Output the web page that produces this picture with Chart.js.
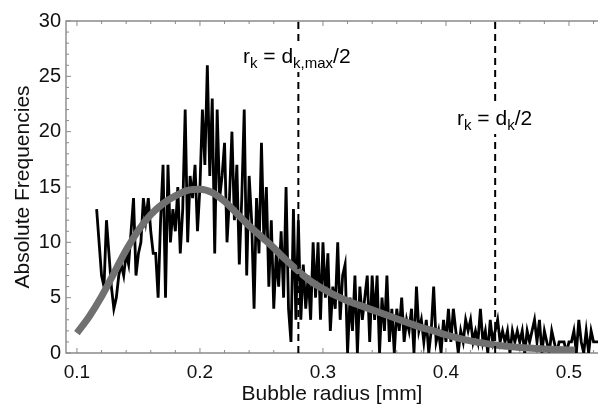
<!DOCTYPE html>
<html><head><meta charset="utf-8">
<script src="https://cdn.jsdelivr.net/npm/chart.js@4.4.1/dist/chart.umd.min.js"></script>
<style>html,body{margin:0;padding:0;background:#fff}#wrap{width:598px;height:409px}</style>
</head><body><div id="wrap"><canvas id="c" width="598" height="409"></canvas></div>
<script>
// Histogram of bubble radii: first bin centre and bin width [mm]
const binStart = 0.116, binWidth = 0.002;
const counts = [
 13,10,7,6,12,9,6,4,5,7,
 8,7,9,8,11,14,7,9,10,14,
 12,14,11,9,9,5,12,17,5,17,
 10,13,11,15,9,13,22,10,16,14,
 17,11,15,22,17,26,16,23,9,22,
 14,16,19,10,14,20,12,17,8,14,
 22,7,16,12,4,14,9,19,10,15,
 6,12,4,9,6,11,5,15,4,1,
 13,3,12,3,8,4,7,3,10,5,
 10,3,10,5,9,2,6,4,10,3,
 7,8,0,5,2,7,0,6,3,5,
 7,1,7,3,7,0,5,2,7,1,
 4,0,4,2,5,1,3,2,4,0,
 6,2,3,1,3,0,2,6,1,2,
 0,3,1,4,1,4,2,0,2,1,
 3,2,3,1,2,1,4,1,2,0,
 3,1,2,3,1,2,1,2,0,2,
 1,2,1,2,0,2,1,2,3,1,
 3,0,2,1,0,2,1,0,1,1,
 1,0,1,1,2,0,3,1,0,2,
 0,2,1,1,1
];
// Fitted distribution (grey curve)
const fitX = [0.10,0.11,0.12,0.13,0.14,0.15,0.16,0.17,0.18,0.19,0.20,0.21,0.22,0.23,0.24,0.25,0.26,0.27,0.28,0.29,0.30,0.31,0.32,0.33,0.34,0.35,0.36,0.37,0.38,0.39,0.40,0.41,0.42,0.43,0.44,0.45,0.46,0.47,0.48,0.49,0.50,0.505];
const fitY = [1.8,3.3,5.1,7.2,9.3,11.1,12.5,13.5,14.2,14.7,14.8,14.5,13.7,12.6,11.5,10.5,9.5,8.4,7.4,6.5,5.8,5.2,4.7,4.3,3.9,3.5,3.1,2.7,2.3,2.0,1.65,1.35,1.1,0.9,0.72,0.6,0.5,0.42,0.36,0.31,0.27,0.25];
// Vertical reference lines
const markerX = [0.28, 0.44];
// Axes
const xMin = 0.0911, xMax = 0.5236, yMin = 0, yMax = 30;
const xTickValues = [0.1,0.2,0.3,0.4,0.5];
const xTickLabels = ['0.1','0.2','0.3','0.4','0.5'];
const yTickValues = [0,5,10,15,20,25,30];
const yTickLabels = ['0','5','10','15','20','25','30'];
const xTitle = 'Bubble radius [mm]';
const yTitle = 'Absolute Frequencies';
// Annotations: [text, isSubscript]
const notes = [
  {x:0.235, y:26.2, parts:[['r',0],['k',1],[' = d',0],['k,max',1],['/2',0]]},
  {x:0.409, y:20.6, parts:[['r',0],['k',1],[' = d',0],['k',1],['/2',0]]}
];

const FONT = '"Liberation Sans", Arial, Helvetica, sans-serif';
const noisy = counts.map((v,i)=>({x: +(binStart + i*binWidth).toFixed(4), y: v}));
const fit = fitX.map((x,i)=>({x, y: fitY[i]}));

const datasets = [];
markerX.forEach(m=>datasets.push({data:[{x:m,y:yMin},{x:m,y:yMax}], borderColor:'#000', borderWidth:2, borderDash:[7,5], pointRadius:0, showLine:true, order:0}));
datasets.push({data:fit, borderColor:'#707070', borderWidth:7, pointRadius:0, showLine:true, cubicInterpolationMode:'monotone', borderCapStyle:'butt', order:1});
datasets.push({data:noisy, borderColor:'#000', borderWidth:2.8, pointRadius:0, showLine:true, tension:0, borderJoinStyle:'miter', order:2});

const framePlugin = {
  id:'frame',
  beforeDatasetsDraw(chart){
    const {ctx, chartArea:a, scales:{x,y}} = chart;
    ctx.save();
    ctx.strokeStyle='#8a8a8a'; ctx.lineWidth=1.4;
    ctx.beginPath();
    ctx.moveTo(a.right+1,a.top); ctx.lineTo(a.left,a.top); ctx.lineTo(a.left,a.bottom); ctx.lineTo(a.right+1,a.bottom);
    ctx.stroke();
    ctx.lineWidth=1;
    ctx.beginPath();
    for(let k=0;k<=25;k++){
      const v=0.1+k*0.02; const px=x.getPixelForValue(v);
      if(px>a.right) break;
      const L = (k%5===0)?5:3;
      ctx.moveTo(px,a.bottom); ctx.lineTo(px,a.bottom-L);
      ctx.moveTo(px,a.top); ctx.lineTo(px,a.top+L);
    }
    for(let k=0;k<=30;k++){
      const py=y.getPixelForValue(k);
      const L=(k%5===0)?5:3;
      ctx.moveTo(a.left,py); ctx.lineTo(a.left+L,py);
    }
    ctx.stroke();
    ctx.restore();
  },
  afterDatasetsDraw(chart){
    const {ctx, scales:{x,y}} = chart;
    ctx.save();
    notes.forEach(n=>{
      const px=x.getPixelForValue(n.x), py=y.getPixelForValue(n.y);
      let w=0;
      n.parts.forEach(([t,s])=>{ctx.font=(s?'15px ':'21px ')+FONT; w+=ctx.measureText(t).width;});
      ctx.fillStyle='#fff';
      ctx.fillRect(px-2,py-20,w+4,29);
      ctx.fillStyle='#000'; ctx.textBaseline='alphabetic'; ctx.textAlign='left';
      let cx=px;
      n.parts.forEach(([t,s])=>{
        ctx.font=(s?'15px ':'21px ')+FONT;
        ctx.fillText(t,cx,py+(s?5:0));
        cx+=ctx.measureText(t).width;
      });
    });
    ctx.restore();
  }
};

new Chart(document.getElementById('c'),{
  type:'scatter',
  data:{datasets},
  options:{
    responsive:false, animation:false, devicePixelRatio:1,
    layout:{padding:{top:21,right:0,left:0,bottom:0}},
    plugins:{legend:{display:false}, tooltip:{enabled:false}},
    scales:{
      x:{type:'linear', min:xMin, max:xMax,
        afterBuildTicks(s){s.ticks=xTickValues.map(v=>({value:v}));},
        afterFit(s){s.height=56;},
        grid:{display:false, drawTicks:false}, border:{display:false},
        ticks:{color:'#111', padding:8, maxRotation:0, autoSkip:false, font:{family:FONT,size:19},
          callback:(v)=>{const i=xTickValues.indexOf(v);return i<0?'':xTickLabels[i];}},
        title:{display:true, text:xTitle, color:'#111', font:{family:FONT,size:21}, padding:{top:0,bottom:2}}
      },
      y:{type:'linear', min:yMin, max:yMax,
        afterBuildTicks(s){s.ticks=yTickValues.map(v=>({value:v}));},
        afterFit(s){s.width=66;},
        grid:{display:false, drawTicks:false}, border:{display:false},
        ticks:{color:'#111', padding:5, autoSkip:false, font:{family:FONT,size:20},
          callback:(v)=>{const i=yTickValues.indexOf(v);return i<0?'':yTickLabels[i];}},
        title:{display:true, text:yTitle, color:'#111', font:{family:FONT,size:21}, padding:{top:11,bottom:0}}
      }
    }
  },
  plugins:[framePlugin]
});
</script></body></html>
